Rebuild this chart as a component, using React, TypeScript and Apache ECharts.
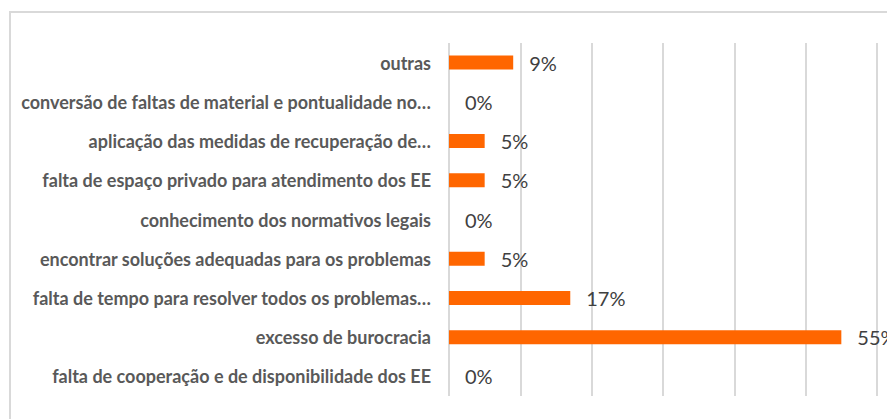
import React, { useEffect, useRef } from "react";
import * as echarts from "echarts";

const categories: string[] = [
  "outras",
  "conversão de faltas de material e pontualidade no…",
  "aplicação das medidas de recuperação de…",
  "falta de espaço privado para atendimento dos EE",
  "conhecimento dos normativos legais",
  "encontrar soluções adequadas para os problemas",
  "falta de tempo para resolver todos os problemas…",
  "excesso de burocracia",
  "falta de cooperação e de disponibilidade dos EE",
];

const values: number[] = [9, 0, 5, 5, 0, 5, 17, 55, 0];

const axisMax = 60;
const axisInterval = 10;

export default function App() {
  const ref = useRef<HTMLDivElement>(null);

  useEffect(() => {
    if (!ref.current) return;
    const chart = echarts.init(ref.current, undefined, { renderer: "svg" });
    chart.setOption({
      animation: false,
      backgroundColor: "#ffffff",
      graphic: [
        {
          type: "rect",
          shape: { x: 2, y: 4, width: 1200, height: 1200 },
          style: { fill: "none", stroke: "#d9d9d9", lineWidth: 2 },
          silent: true,
          z: -1,
        },
      ],
      grid: { left: 441, top: 35, width: 428, height: 353 },
      xAxis: {
        type: "value",
        min: 0,
        max: axisMax,
        interval: axisInterval,
        axisLabel: { show: false },
        axisLine: { show: false },
        axisTick: { show: false },
        splitLine: { show: true, lineStyle: { color: "#d9d9d9", width: 2 } },
      },
      yAxis: {
        type: "category",
        data: categories,
        inverse: true,
        axisLine: { show: false },
        axisTick: { show: false },
        axisLabel: {
          color: "#595959",
          fontFamily: "Lato",
          fontWeight: "bold",
          fontSize: 18,
          margin: 18,
        },
      },
      series: [
        {
          type: "bar",
          data: values,
          barWidth: 14,
          itemStyle: { color: "#ff6600" },
          label: {
            show: true,
            position: "right",
            distance: 16,
            formatter: (p: any) => p.value + "%",
            color: "#404040",
            fontFamily: "Lato",
            fontSize: 20,
          },
        },
      ],
    });
    return () => chart.dispose();
  }, []);

  return (
    <div style={{ width: 887, height: 411, overflow: "hidden" }}>
      <div ref={ref} style={{ width: 960, height: 411 }} />
    </div>
  );
}
